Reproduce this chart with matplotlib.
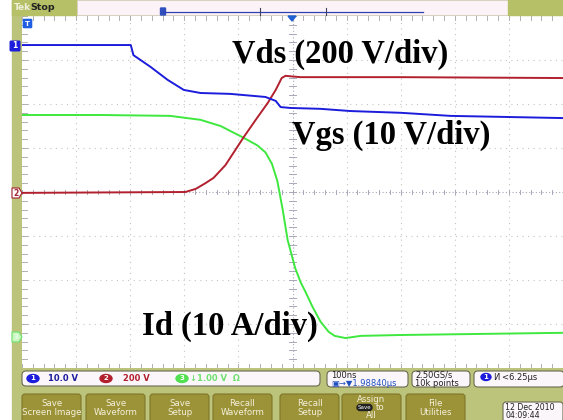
import numpy as np
import matplotlib.pyplot as plt
from matplotlib.patches import Rectangle, FancyBboxPatch, Ellipse, Polygon

# time axis in ns (100 ns/div), trace levels in divisions
t_vgs = [-499, -299, -294, -262, -231, -201, -170, -115, -50, -31, -22, -4, 52, 107, 200, 292, 501]
vgs = [3.34, 3.34, 3.11, 2.84, 2.55, 2.32, 2.25, 2.23, 2.16, 2.07, 1.93, 1.91, 1.89, 1.84, 1.80, 1.73, 1.68]

t_vds = [-499, -198, -179, -161, -146, -124, -90, -68, -46, -31, -20, -13, 15, 200, 501]
vds = [-0.02, 0.0, 0.07, 0.20, 0.32, 0.61, 1.25, 1.64, 2.02, 2.32, 2.59, 2.64, 2.61, 2.61, 2.59]

t_id = [-499, -355, -226, -170, -133, -90, -65, -50, -38, -28, -18, -9, 5, 15, 24, 37, 52, 67, 78, 98, 126, 200, 501]
i_d = [1.75, 1.75, 1.73, 1.64, 1.50, 1.23, 1.06, 0.90, 0.64, 0.25, -0.41, -1.09, -1.73, -2.05, -2.27, -2.61, -2.95, -3.18, -3.27, -3.32, -3.27, -3.25, -3.2]

ch_labels = ["10.0 V", "200 V", "\u21931.00 V  \u03a9"]
buttons = ["Save\nScreen Image", "Save\nWaveform", "Save\nSetup", "Recall\nWaveform",
           "Recall\nSetup", None, "File\nUtilities"]

W, H = 563, 420
fig = plt.figure(figsize=(W / 100, H / 100), dpi=100)
fig.patch.set_facecolor("white")

olive = "#bcc47c"
btn = "#9c9338"

# background ui layer (pixel coords)
bg = fig.add_axes([0, 0, 1, 1], zorder=0)
bg.set_xlim(0, W)
bg.set_ylim(H, 0)
bg.axis("off")
bg.add_patch(Rectangle((12, 0), W - 12, H, color=olive))

# scope graticule
x0, x1, y0, y1 = 22, 563, 16, 368
ax = fig.add_axes([x0 / W, (H - y1) / H, (x1 - x0) / W, (y1 - y0) / H], zorder=1)
ax.set_facecolor("white")
ax.set_xlim(-500, 500)
ax.set_ylim(-4, 4)
for s in ax.spines.values():
    s.set_visible(False)
ax.set_xticks([])
ax.set_yticks([])
gc = "#c4c4c4"
for k in range(-4, 5):
    if k != 0:
        ax.axvline(k * 100, color=gc, lw=0.8, ls=(0, (1, 4)))
for k in range(-3, 4):
    if k != 0:
        ax.axhline(k, color=gc, lw=0.8, ls=(0, (1, 4)))
ax.axvline(0, color="#a8a8b8", lw=0.8, ls=(0, (1, 2)))
ax.axhline(0, color="#a8a8b8", lw=0.8, ls=(0, (1, 2)))
for v in np.arange(-4, 4.01, 0.2):
    ax.plot([-6, 6], [v, v], color="#a8a8b8", lw=0.7)
    ax.plot([-500, -490], [v, v], color="#b0b0b0", lw=0.7)
for v in np.arange(-500, 501, 20):
    ax.plot([v, v], [-0.04, 0.04], color="#a8a8b8", lw=0.7)
    ax.plot([v, v], [-4, -3.92], color="#b0b0b0", lw=0.7)
    ax.plot([v, v], [3.92, 4], color="#b0b0b0", lw=0.7)

ax.plot(t_id, i_d, color="#3ee83e", lw=1.4)
ax.plot(t_vds, vds, color="#b2202e", lw=1.4)
ax.plot(t_vgs, vgs, color="#1c1cdc", lw=1.4)

# overlay ui layer
ui = fig.add_axes([0, 0, 1, 1], zorder=2)
ui.set_xlim(0, W)
ui.set_ylim(H, 0)
ui.axis("off")
ui.patch.set_alpha(0)

# top status bar
ui.add_patch(Rectangle((12, 0), 65, 15, color="#b6c066"))
ui.text(14, 8, "Tek", color="#eef0dc", fontsize=6.5, va="center", fontweight="bold")
ui.text(30, 8, "Stop", color="#222222", fontsize=6.8, va="center", fontweight="bold")
ui.add_patch(Rectangle((77, 0), 431, 15, facecolor="#fbf3f8", edgecolor="#d8d0c0", lw=0.6))
ui.add_patch(Rectangle((508, 0), 55, 15, color="#b6c066"))
ui.plot([163, 423], [12, 12], color="#3040b0", lw=0.9)
ui.plot([260, 260], [8, 15], color="#404060", lw=0.8)
ui.plot([326, 326], [8, 15], color="#404060", lw=0.8)
ui.add_patch(FancyBboxPatch((161, 8.5), 4, 6, boxstyle="round,pad=0.5", color="#3050c0"))
ui.add_patch(Polygon([[288, 16], [296, 16], [292, 21]], color="#2060d0"))
ui.add_patch(FancyBboxPatch((24, 20), 7, 7, boxstyle="round,pad=0.6", color="#2060e0"))
ui.text(27.5, 23.5, "T", color="white", fontsize=5, ha="center", va="center", fontweight="bold")

# channel markers
ui.add_patch(FancyBboxPatch((11, 42), 8, 8, boxstyle="round,pad=0.8", color="#1c1cdc"))
ui.text(15, 46, "1", color="white", fontsize=5.5, ha="center", va="center", fontweight="bold")
ui.add_patch(Polygon([[12, 188], [19, 188], [22, 193], [19, 198], [12, 198]],
                     facecolor="white", edgecolor="#a02030", lw=0.8))
ui.text(16, 193, "2", color="#a02030", fontsize=5.5, ha="center", va="center", fontweight="bold")
ui.add_patch(Polygon([[12, 332], [19, 332], [22, 337], [19, 342], [12, 342]],
                     facecolor="#c8f8c0", edgecolor="#70e070", lw=0.8))
ui.text(16, 337, "3", color="white", fontsize=5, ha="center", va="center")

# big annotations
lbl = dict(fontsize=23.5, fontweight="bold", family="Liberation Serif", color="black", va="baseline")
ui.text(232, 63, "Vds (200 V/div)", **lbl)
ui.text(292, 144, "Vgs (10 V/div)", **lbl)
ui.text(142, 335, "Id (10 A/div)", **lbl)

# bottom status boxes
box = dict(boxstyle="round,pad=0,rounding_size=4", facecolor="#fbf6fa", edgecolor="#6a6a50", lw=0.8)
ui.add_patch(FancyBboxPatch((22, 371), 298, 15, **box))
ui.add_patch(FancyBboxPatch((327, 371), 81, 16, **box))
ui.add_patch(FancyBboxPatch((412, 371), 58, 16, **box))
ui.add_patch(FancyBboxPatch((474, 371), 90, 16, **box))
for cx, col, num, tx, label, tcol in [(33, "#1c1cdc", "1", 48, ch_labels[0], "#1c1c9c"),
                                      (106, "#b2202e", "2", 123, ch_labels[1], "#b2202e"),
                                      (182, "#50e050", "3", 190, ch_labels[2], "#70e070")]:
    ui.add_patch(Ellipse((cx, 378.5), 12, 8, color=col))
    ui.text(cx, 378.5, num, color="white", fontsize=5, ha="center", va="center", fontweight="bold")
    ui.text(tx, 378.5, label, color=tcol, fontsize=6, va="center", fontweight="bold")
ui.text(331, 375, "100ns", fontsize=6, va="center", color="#222222")
ui.text(331, 383, "\u25a3\u2192\u25bc1.98840\u00b5s", fontsize=6, va="center", color="#2050c0")
ui.text(415, 375, "2.50GS/s", fontsize=6, va="center", color="#222222")
ui.text(415, 383, "10k points", fontsize=6, va="center", color="#222222")
ui.add_patch(Ellipse((486, 377), 10, 7, color="#1c1cdc"))
ui.text(486, 377, "1", color="white", fontsize=5, ha="center", va="center", fontweight="bold")
ui.text(494, 377, "\u0418\u2009<6.25\u00b5s", fontsize=6, va="center", color="#222222")

# soft buttons
bx = [22, 86, 150, 213, 280, 342, 406]
for x, name in zip(bx, buttons):
    ui.add_patch(FancyBboxPatch((x, 394), 59, 30, boxstyle="round,pad=0,rounding_size=3",
                                facecolor=btn, edgecolor="#7e7628", lw=0.8))
    if name:
        ui.text(x + 29.5, 408, name, color="#f4f0dc", fontsize=6.2, ha="center", va="center",
                linespacing=1.0)
# assign button
ui.text(371.5, 399.5, "Assign", color="#f4f0dc", fontsize=6.2, ha="center", va="center")
ui.add_patch(FancyBboxPatch((357, 404.5), 15, 6, boxstyle="round,pad=0,rounding_size=3",
                            color="#202020"))
ui.text(364.5, 407.5, "Save", color="white", fontsize=4, ha="center", va="center")
ui.text(376, 407.5, "to", color="#f4f0dc", fontsize=6.2, va="center")
ui.text(371.5, 416, "All", color="#f4f0dc", fontsize=6.2, ha="center", va="center")

ui.add_patch(FancyBboxPatch((503, 402), 60, 20, boxstyle="round,pad=0,rounding_size=3",
                            facecolor="#fbf6fa", edgecolor="#6a6a50", lw=0.8))
ui.text(505, 411.5, "12 Dec 2010\n04:09:44", fontsize=5.6, va="center", color="#222222",
        linespacing=1.0)

fig.savefig("out.png", dpi=100)
